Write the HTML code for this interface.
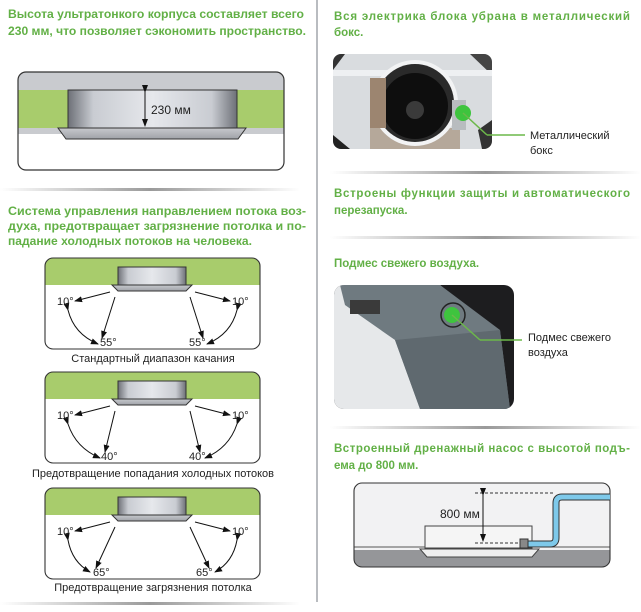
<!DOCTYPE html>
<html><head><meta charset="utf-8"><style>
html,body{margin:0;padding:0;background:#fff;}
svg{display:block;font-family:"Liberation Sans",Arial,sans-serif;}
.t{fill:#62b046;font-weight:bold;font-size:11.5px;}
.l{fill:#222;font-size:11px;}
</style></head><body>
<svg width="641" height="612" viewBox="0 0 641 612" xmlns="http://www.w3.org/2000/svg">
<defs>
<marker id="ar" markerWidth="8" markerHeight="8" refX="7" refY="4" orient="auto" markerUnits="userSpaceOnUse"><path d="M0,1 L8,4 L0,7 Z" fill="#111"/></marker>
<linearGradient id="cyl" x1="0" x2="1"><stop offset="0" stop-color="#6d7077"/><stop offset="0.15" stop-color="#c9ccd2"/><stop offset="0.5" stop-color="#e6e8ec"/><stop offset="0.85" stop-color="#c9ccd2"/><stop offset="1" stop-color="#6d7077"/></linearGradient>
<linearGradient id="fl" x1="0" x2="0" y1="0" y2="1"><stop offset="0" stop-color="#c7c9cd"/><stop offset="1" stop-color="#9fa2a8"/></linearGradient>
<linearGradient id="sep" x1="0" x2="1"><stop offset="0" stop-color="#fff"/><stop offset="0.5" stop-color="#9a9a9a"/><stop offset="1" stop-color="#fff"/></linearGradient>
<clipPath id="c1"><rect x="333" y="54" width="159" height="95" rx="8"/></clipPath>
<clipPath id="c2"><rect x="334" y="285" width="180" height="124" rx="10"/></clipPath>
<clipPath id="c3"><rect x="354" y="483" width="256" height="84" rx="8"/></clipPath>
<clipPath id="c0"><rect x="18" y="72" width="266" height="98" rx="8"/></clipPath>
</defs>

<rect x="316" y="0" width="2" height="602" fill="#b9bcc0"/>

<rect x="0" y="188" width="300" height="3" fill="url(#sep)"/>
<rect x="0" y="602" width="300" height="3" fill="url(#sep)"/>
<rect x="330" y="171" width="311" height="3" fill="url(#sep)"/>
<rect x="330" y="236" width="311" height="3" fill="url(#sep)"/>
<rect x="330" y="426" width="311" height="3" fill="url(#sep)"/>

<text class="t" x="8" y="18" textLength="296" lengthAdjust="spacingAndGlyphs">Высота ультратонкого корпуса составляет всего</text>
<text class="t" x="8" y="35" textLength="298" lengthAdjust="spacingAndGlyphs">230 мм, что позволяет сэкономить пространство.</text>
<g clip-path="url(#c0)">
<rect x="18" y="72" width="266" height="98" fill="#fff"/>
<rect x="18" y="72" width="266" height="18" fill="#c9cbcf"/>
<rect x="18" y="90" width="266" height="38" fill="#a8cc6c"/>
<rect x="18" y="128" width="266" height="6" fill="#c9cbcf"/>
</g>
<rect x="18" y="72" width="266" height="98" rx="8" fill="none" stroke="#333" stroke-width="1.2"/>
<rect x="68" y="90" width="169" height="38" fill="url(#cyl)" stroke="#333" stroke-width="1"/>
<polygon points="58,128 246,128 238,139 66,139" fill="url(#fl)" stroke="#333" stroke-width="1"/>
<line x1="145" y1="92" x2="145" y2="126" stroke="#111" stroke-width="1" marker-end="url(#ar)" marker-start="url(#ar)"/>
<text x="151" y="114" font-size="12" fill="#222">230 мм</text>

<text class="t" x="8" y="215" textLength="298" lengthAdjust="spacingAndGlyphs">Система управления направлением потока воз-</text>
<text class="t" x="8" y="230" textLength="298" lengthAdjust="spacingAndGlyphs">духа, предотвращает загрязнение потолка и по-</text>
<text class="t" x="8" y="245" textLength="244" lengthAdjust="spacingAndGlyphs">падание холодных потоков на человека.</text>

<g transform="translate(0,258)">
<path d="M45,27 V8 A8,8 0 0 1 53,0 H252 A8,8 0 0 1 260,8 V27 Z" fill="#a8cc6c"/>
<rect x="45" y="0" width="215" height="91" rx="8" fill="none" stroke="#333" stroke-width="1.1"/>
<rect x="118" y="9" width="68" height="18" fill="url(#cyl)" stroke="#333"/>
<polygon points="112,27 192,27 186,33 118,33" fill="url(#fl)" stroke="#333"/>
<line x1="110" y1="34" x2="75" y2="43" stroke="#111" marker-end="url(#ar)"/>
<line x1="115" y1="39" x2="102" y2="80" stroke="#111" marker-end="url(#ar)"/>
<path d="M68,52 Q74,76 98,86" fill="none" stroke="#111" marker-end="url(#ar)" marker-start="url(#ar)"/>
<line x1="195" y1="34" x2="230" y2="43" stroke="#111" marker-end="url(#ar)"/>
<line x1="190" y1="39" x2="203" y2="80" stroke="#111" marker-end="url(#ar)"/>
<path d="M237,52 Q231,76 207,86" fill="none" stroke="#111" marker-end="url(#ar)" marker-start="url(#ar)"/>
<text class="l" x="57" y="47">10°</text><text class="l" x="100" y="88">55°</text>
<text class="l" x="232" y="47">10°</text><text class="l" x="189" y="88">55°</text>
</g>
<text class="l" x="153" y="362" text-anchor="middle">Стандартный диапазон качания</text>

<g transform="translate(0,372)">
<path d="M45,27 V8 A8,8 0 0 1 53,0 H252 A8,8 0 0 1 260,8 V27 Z" fill="#a8cc6c"/>
<rect x="45" y="0" width="215" height="91" rx="8" fill="none" stroke="#333" stroke-width="1.1"/>
<rect x="118" y="9" width="68" height="18" fill="url(#cyl)" stroke="#333"/>
<polygon points="112,27 192,27 186,33 118,33" fill="url(#fl)" stroke="#333"/>
<line x1="110" y1="34" x2="75" y2="43" stroke="#111" marker-end="url(#ar)"/>
<line x1="115" y1="39" x2="105" y2="80" stroke="#111" marker-end="url(#ar)"/>
<path d="M68,52 Q76,76 100,86" fill="none" stroke="#111" marker-end="url(#ar)" marker-start="url(#ar)"/>
<line x1="195" y1="34" x2="230" y2="43" stroke="#111" marker-end="url(#ar)"/>
<line x1="190" y1="39" x2="200" y2="80" stroke="#111" marker-end="url(#ar)"/>
<path d="M237,52 Q229,76 205,86" fill="none" stroke="#111" marker-end="url(#ar)" marker-start="url(#ar)"/>
<text class="l" x="57" y="47">10°</text><text class="l" x="101" y="88">40°</text>
<text class="l" x="232" y="47">10°</text><text class="l" x="189" y="88">40°</text>
</g>
<text class="l" x="153" y="477" text-anchor="middle">Предотвращение попадания холодных потоков</text>

<g transform="translate(0,488)">
<path d="M45,27 V8 A8,8 0 0 1 53,0 H252 A8,8 0 0 1 260,8 V27 Z" fill="#a8cc6c"/>
<rect x="45" y="0" width="215" height="91" rx="8" fill="none" stroke="#333" stroke-width="1.1"/>
<rect x="118" y="9" width="68" height="18" fill="url(#cyl)" stroke="#333"/>
<polygon points="112,27 192,27 186,33 118,33" fill="url(#fl)" stroke="#333"/>
<line x1="110" y1="34" x2="75" y2="43" stroke="#111" marker-end="url(#ar)"/>
<line x1="115" y1="39" x2="96" y2="80" stroke="#111" marker-end="url(#ar)"/>
<path d="M68,52 Q72,74 90,84" fill="none" stroke="#111" marker-end="url(#ar)" marker-start="url(#ar)"/>
<line x1="195" y1="34" x2="230" y2="43" stroke="#111" marker-end="url(#ar)"/>
<line x1="190" y1="39" x2="209" y2="80" stroke="#111" marker-end="url(#ar)"/>
<path d="M237,52 Q233,74 215,84" fill="none" stroke="#111" marker-end="url(#ar)" marker-start="url(#ar)"/>
<text class="l" x="57" y="47">10°</text><text class="l" x="93" y="88">65°</text>
<text class="l" x="232" y="47">10°</text><text class="l" x="196" y="88">65°</text>
</g>
<text class="l" x="153" y="591" text-anchor="middle">Предотвращение загрязнения потолка</text>

<!-- right column -->
<text class="t" x="334" y="20" textLength="296" lengthAdjust="spacing">Вся электрика блока убрана в металлический</text>
<text class="t" x="334" y="36">бокс.</text>
<g clip-path="url(#c1)">
<rect x="333" y="54" width="159" height="95" fill="#d9dcdf"/>
<polygon points="333,54 345,54 333,70" fill="#333"/>
<polygon points="470,54 492,54 492,75" fill="#444"/>
<polygon points="333,135 350,149 333,149" fill="#222"/>
<polygon points="478,130 492,120 492,149 482,149" fill="#333"/>
<rect x="333" y="70" width="159" height="6" fill="#eef0f2"/>
<rect x="370" y="128" width="90" height="21" fill="#b5a89a"/>
<circle cx="415" cy="103" r="43" fill="#f2f3f4"/>
<circle cx="415" cy="103" r="39" fill="#2a2a2a"/>
<circle cx="415" cy="106" r="33" fill="#0e0e0e"/>
<circle cx="415" cy="110" r="9" fill="#3a3a3a"/>
<rect x="370" y="78" width="16" height="50" fill="#9c8570"/>
<rect x="452" y="100" width="14" height="30" fill="#b8bcbf"/>
</g>
<circle cx="463" cy="113" r="8" fill="#3ec43e"/>
<line x1="463" y1="113" x2="487" y2="135" stroke="#6cb84a" stroke-width="1.5"/>
<line x1="487" y1="135" x2="525" y2="135" stroke="#6cb84a" stroke-width="1.5"/>
<text class="l" x="530" y="139">Металлический</text>
<text class="l" x="530" y="154">бокс</text>

<text class="t" x="334" y="197" textLength="296" lengthAdjust="spacing">Встроены функции защиты и автоматического</text>
<text class="t" x="334" y="214">перезапуска.</text>

<text class="t" x="334" y="267">Подмес свежего воздуха.</text>
<g clip-path="url(#c2)">
<rect x="334" y="285" width="180" height="124" fill="#1d1d1f"/>
<polygon points="334,285 440,285 480,320 490,409 334,409" fill="#e6e8ea"/>
<polygon points="340,285 440,285 500,330 510,409 420,409 395,340 345,305" fill="#6f7a80"/>
<polygon points="395,340 500,330 510,409 420,409" fill="#5f696f"/>
<rect x="350" y="300" width="30" height="14" fill="#3a3a3a"/>
<circle cx="453" cy="315" r="12" fill="none" stroke="#222" stroke-width="1.5"/>
</g>
<circle cx="452" cy="315" r="8" fill="#3ec43e"/>
<line x1="452" y1="315" x2="480" y2="340" stroke="#6cb84a" stroke-width="1.5"/>
<line x1="480" y1="340" x2="522" y2="340" stroke="#6cb84a" stroke-width="1.5"/>
<text class="l" x="528" y="341">Подмес свежего</text>
<text class="l" x="528" y="356">воздуха</text>

<text class="t" x="334" y="452" textLength="296" lengthAdjust="spacing">Встроенный дренажный насос с высотой подъ-</text>
<text class="t" x="334" y="469">ема до 800 мм.</text>
<g clip-path="url(#c3)">
<rect x="354" y="483" width="256" height="84" fill="#f2f2f3"/>
<rect x="354" y="550" width="256" height="17" fill="#959699"/>
<line x1="354" y1="547" x2="610" y2="547" stroke="#555" stroke-width="1"/>
</g>
<rect x="354" y="483" width="256" height="84" rx="8" fill="none" stroke="#333" stroke-width="1.1"/>
<rect x="425" y="526" width="107" height="22" fill="#f5f5f5" stroke="#444"/>
<polygon points="420,549 539,549 532,557 427,557" fill="#eee" stroke="#444"/>
<line x1="475" y1="493" x2="555" y2="493" stroke="#333" stroke-dasharray="3,2"/>
<line x1="475" y1="543" x2="520" y2="543" stroke="#333" stroke-dasharray="3,2"/>
<line x1="483" y1="495" x2="483" y2="541" stroke="#111" marker-end="url(#ar)" marker-start="url(#ar)"/>
<text x="440" y="518" font-size="12" fill="#222">800 мм</text>
<path d="M528,544 H550 Q556,544 556,538 V503 Q556,497 562,497 H610" fill="none" stroke="#333" stroke-width="7"/>
<path d="M528,544 H550 Q556,544 556,538 V503 Q556,497 562,497 H610" fill="none" stroke="#7ec9ea" stroke-width="5"/>
<rect x="520" y="539" width="8" height="9" fill="#888" stroke="#333"/>
</svg>
</body></html>
